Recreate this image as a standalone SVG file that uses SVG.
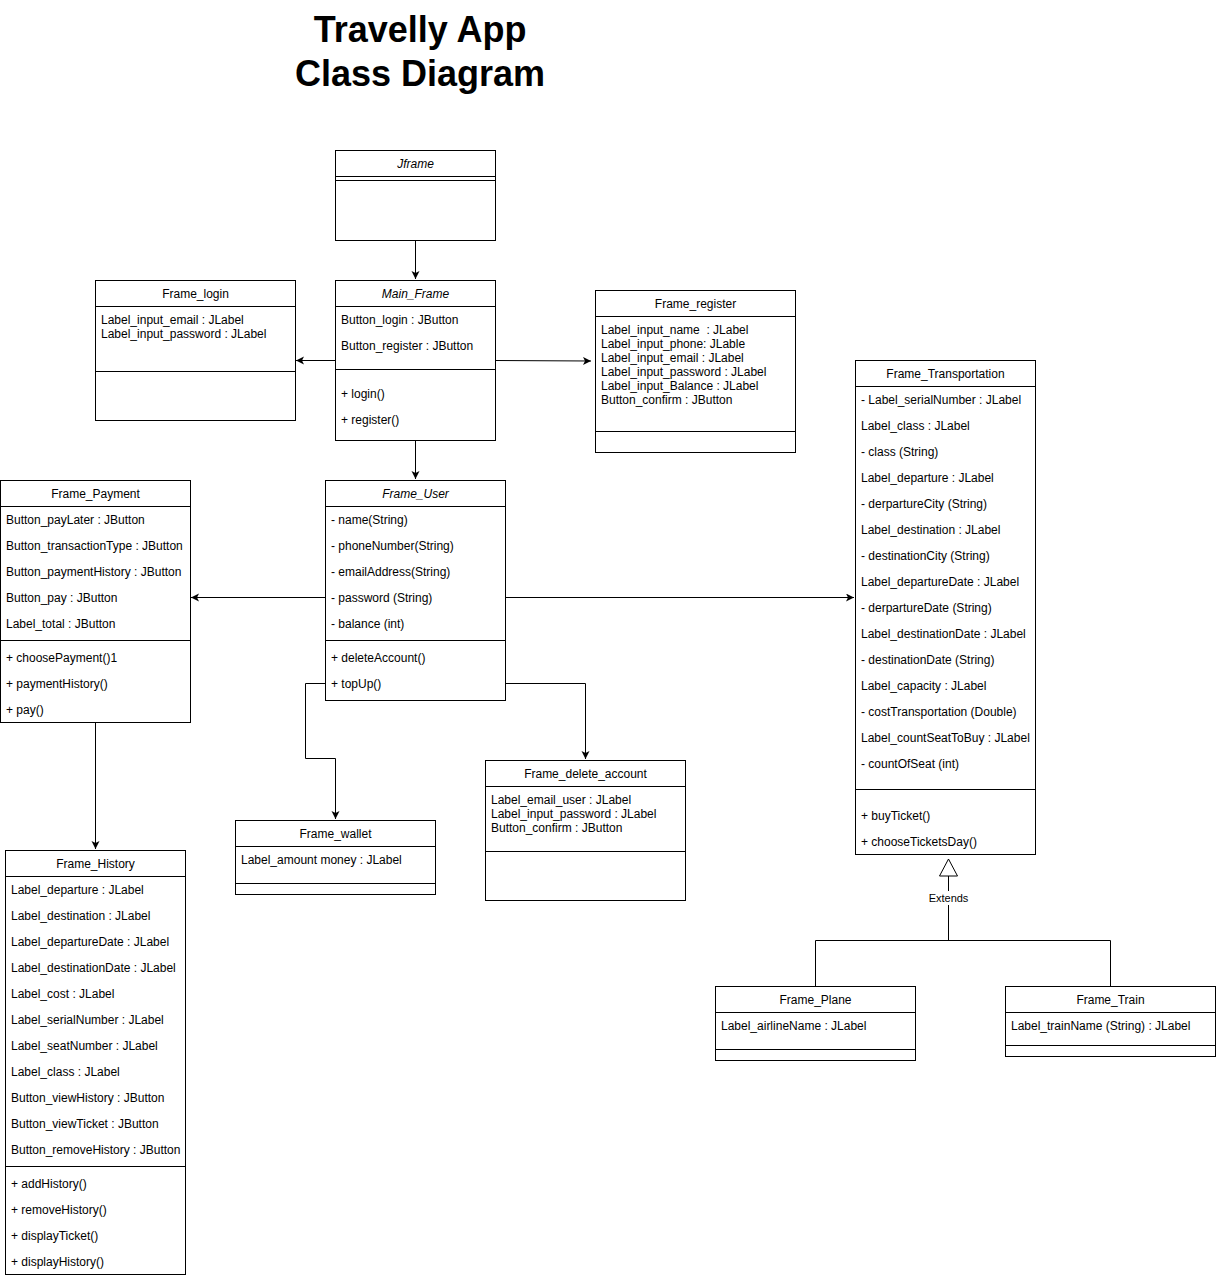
<svg xmlns="http://www.w3.org/2000/svg" width="1217" height="1278" viewBox="0 0 1217 1278">
<style>
text{font-family:"Liberation Sans",Arial,sans-serif;font-size:12px;fill:#000}
.t{text-anchor:middle}
.i{font-style:italic}
.h{font-size:36px;font-weight:bold;text-anchor:middle}
rect{fill:#fff;stroke:#000;stroke-width:1}
.s{stroke:#000;stroke-width:1;fill:none}
.c{stroke:#000;stroke-width:1;fill:none}
</style>
<defs>
<marker id="a" markerUnits="userSpaceOnUse" markerWidth="10" markerHeight="10" refX="8" refY="4" orient="auto">
<path d="M0,0 L8,4 L0,8 L2,4 z" fill="#000"/>
</marker>
</defs>
<rect x="0" y="0" width="1217" height="1278" style="stroke:none"/>
<g id="title">
<text class="h" x="420" y="42">Travelly App</text>
<text class="h" x="420" y="86">Class Diagram</text>
</g>
<g id="connectors">
<path class="c" d="M415.5,240 V279" marker-end="url(#a)"/>
<path class="c" d="M335,360.5 H296" marker-end="url(#a)"/>
<path class="c" d="M495,360.5 L591,361" marker-end="url(#a)"/>
<path class="c" d="M415.5,440 V479" marker-end="url(#a)"/>
<path class="c" d="M325,597.5 H191" marker-end="url(#a)"/>
<path class="c" d="M505,597.5 H854" marker-end="url(#a)"/>
<path class="c" d="M95.5,722 V849" marker-end="url(#a)"/>
<path class="c" d="M325,683.5 H305.5 V758.5 H335.5 V819" marker-end="url(#a)"/>
<path class="c" d="M505,683.5 H585.5 V759" marker-end="url(#a)"/>
<path class="c" d="M948.5,876 V940.5 M815.5,986 V940.5 H1110.5 V986"/>
<path class="c" d="M948.5,859 L957.5,876 H939.5 z" style="fill:#fff"/>
<rect x="926" y="891" width="45" height="14" style="stroke:none"/>
<text class="t" x="948.5" y="902" style="font-size:11px">Extends</text>
</g>
<g id="Jframe">
<rect x="335.5" y="150.5" width="160" height="90"/>
<path class="s" d="M335.5,176.5 H495.5 M335.5,180.5 H495.5"/>
<text class="t i" x="415.5" y="168">Jframe</text>
</g>
<g id="Main_Frame">
<rect x="335.5" y="280.5" width="160" height="160"/>
<path class="s" d="M335.5,306.5 H495.5 M335.5,369.5 H495.5"/>
<text class="t i" x="415.5" y="298">Main_Frame</text>
<text x="341" y="324">Button_login : JButton</text>
<text x="341" y="350">Button_register : JButton</text>
<text x="341" y="398">+ login()</text>
<text x="341" y="424">+ register()</text>
</g>
<g id="Frame_login">
<rect x="95.5" y="280.5" width="200" height="140"/>
<path class="s" d="M95.5,306.5 H295.5 M95.5,371.5 H295.5"/>
<text class="t" x="195.5" y="298">Frame_login</text>
<text x="101" y="324">Label_input_email : JLabel</text>
<text x="101" y="338">Label_input_password : JLabel</text>
</g>
<g id="Frame_register">
<rect x="595.5" y="290.5" width="200" height="162"/>
<path class="s" d="M595.5,316.5 H795.5 M595.5,431.5 H795.5"/>
<text class="t" x="695.5" y="308">Frame_register</text>
<text x="601" y="334" style="white-space:pre">Label_input_name  : JLabel</text>
<text x="601" y="348">Label_input_phone: JLable</text>
<text x="601" y="362">Label_input_email : JLabel</text>
<text x="601" y="376">Label_input_password : JLabel</text>
<text x="601" y="390">Label_input_Balance : JLabel</text>
<text x="601" y="404">Button_confirm : JButton</text>
</g>
<g id="Frame_User">
<rect x="325.5" y="480.5" width="180" height="220"/>
<path class="s" d="M325.5,506.5 H505.5 M325.5,640.5 H505.5"/>
<text class="t i" x="415.5" y="498">Frame_User</text>
<text x="331" y="524">- name(String)</text>
<text x="331" y="550">- phoneNumber(String)</text>
<text x="331" y="576">- emailAddress(String)</text>
<text x="331" y="602">- password (String)</text>
<text x="331" y="628">- balance (int)</text>
<text x="331" y="662">+ deleteAccount()</text>
<text x="331" y="688">+ topUp()</text>
</g>
<g id="Frame_Payment">
<rect x="0.5" y="480.5" width="190" height="242"/>
<path class="s" d="M0.5,506.5 H190.5 M0.5,640.5 H190.5"/>
<text class="t" x="95.5" y="498">Frame_Payment</text>
<text x="6" y="524">Button_payLater : JButton</text>
<text x="6" y="550">Button_transactionType : JButton</text>
<text x="6" y="576">Button_paymentHistory : JButton</text>
<text x="6" y="602">Button_pay : JButton</text>
<text x="6" y="628">Label_total : JButton</text>
<text x="6" y="662">+ choosePayment()1</text>
<text x="6" y="688">+ paymentHistory()</text>
<text x="6" y="714">+ pay()</text>
</g>
<g id="Frame_Transportation">
<rect x="855.5" y="360.5" width="180" height="494"/>
<path class="s" d="M855.5,386.5 H1035.5 M855.5,789.5 H1035.5"/>
<text class="t" x="945.5" y="378">Frame_Transportation</text>
<text x="861" y="404">- Label_serialNumber : JLabel</text>
<text x="861" y="430">Label_class : JLabel</text>
<text x="861" y="456">- class (String)</text>
<text x="861" y="482">Label_departure : JLabel</text>
<text x="861" y="508">- derpartureCity (String)</text>
<text x="861" y="534">Label_destination : JLabel</text>
<text x="861" y="560">- destinationCity (String)</text>
<text x="861" y="586">Label_departureDate : JLabel</text>
<text x="861" y="612">- derpartureDate (String)</text>
<text x="861" y="638">Label_destinationDate : JLabel</text>
<text x="861" y="664">- destinationDate (String)</text>
<text x="861" y="690">Label_capacity : JLabel</text>
<text x="861" y="716">- costTransportation (Double)</text>
<text x="861" y="742">Label_countSeatToBuy : JLabel</text>
<text x="861" y="768">- countOfSeat (int)</text>
<text x="861" y="820">+ buyTicket()</text>
<text x="861" y="846">+ chooseTicketsDay()</text>
</g>
<g id="Frame_History">
<rect x="5.5" y="850.5" width="180" height="424"/>
<path class="s" d="M5.5,876.5 H185.5 M5.5,1166.5 H185.5"/>
<text class="t" x="95.5" y="868">Frame_History</text>
<text x="11" y="894">Label_departure : JLabel</text>
<text x="11" y="920">Label_destination : JLabel</text>
<text x="11" y="946">Label_departureDate : JLabel</text>
<text x="11" y="972">Label_destinationDate : JLabel</text>
<text x="11" y="998">Label_cost : JLabel</text>
<text x="11" y="1024">Label_serialNumber : JLabel</text>
<text x="11" y="1050">Label_seatNumber : JLabel</text>
<text x="11" y="1076">Label_class : JLabel</text>
<text x="11" y="1102">Button_viewHistory : JButton</text>
<text x="11" y="1128">Button_viewTicket : JButton</text>
<text x="11" y="1154">Button_removeHistory : JButton</text>
<text x="11" y="1188">+ addHistory()</text>
<text x="11" y="1214">+ removeHistory()</text>
<text x="11" y="1240">+ displayTicket()</text>
<text x="11" y="1266">+ displayHistory()</text>
</g>
<g id="Frame_wallet">
<rect x="235.5" y="820.5" width="200" height="74"/>
<path class="s" d="M235.5,846.5 H435.5 M235.5,883.5 H435.5"/>
<text class="t" x="335.5" y="838">Frame_wallet</text>
<text x="241" y="864">Label_amount money : JLabel</text>
</g>
<g id="Frame_delete_account">
<rect x="485.5" y="760.5" width="200" height="140"/>
<path class="s" d="M485.5,786.5 H685.5 M485.5,851.5 H685.5"/>
<text class="t" x="585.5" y="778">Frame_delete_account</text>
<text x="491" y="804">Label_email_user : JLabel</text>
<text x="491" y="818">Label_input_password : JLabel</text>
<text x="491" y="832">Button_confirm : JButton</text>
</g>
<g id="Frame_Plane">
<rect x="715.5" y="986.5" width="200" height="74"/>
<path class="s" d="M715.5,1012.5 H915.5 M715.5,1049.5 H915.5"/>
<text class="t" x="815.5" y="1004">Frame_Plane</text>
<text x="721" y="1030">Label_airlineName : JLabel</text>
</g>
<g id="Frame_Train">
<rect x="1005.5" y="986.5" width="210" height="70"/>
<path class="s" d="M1005.5,1012.5 H1215.5 M1005.5,1045.5 H1215.5"/>
<text class="t" x="1110.5" y="1004">Frame_Train</text>
<text x="1011" y="1030">Label_trainName (String) : JLabel</text>
</g>
</svg>
